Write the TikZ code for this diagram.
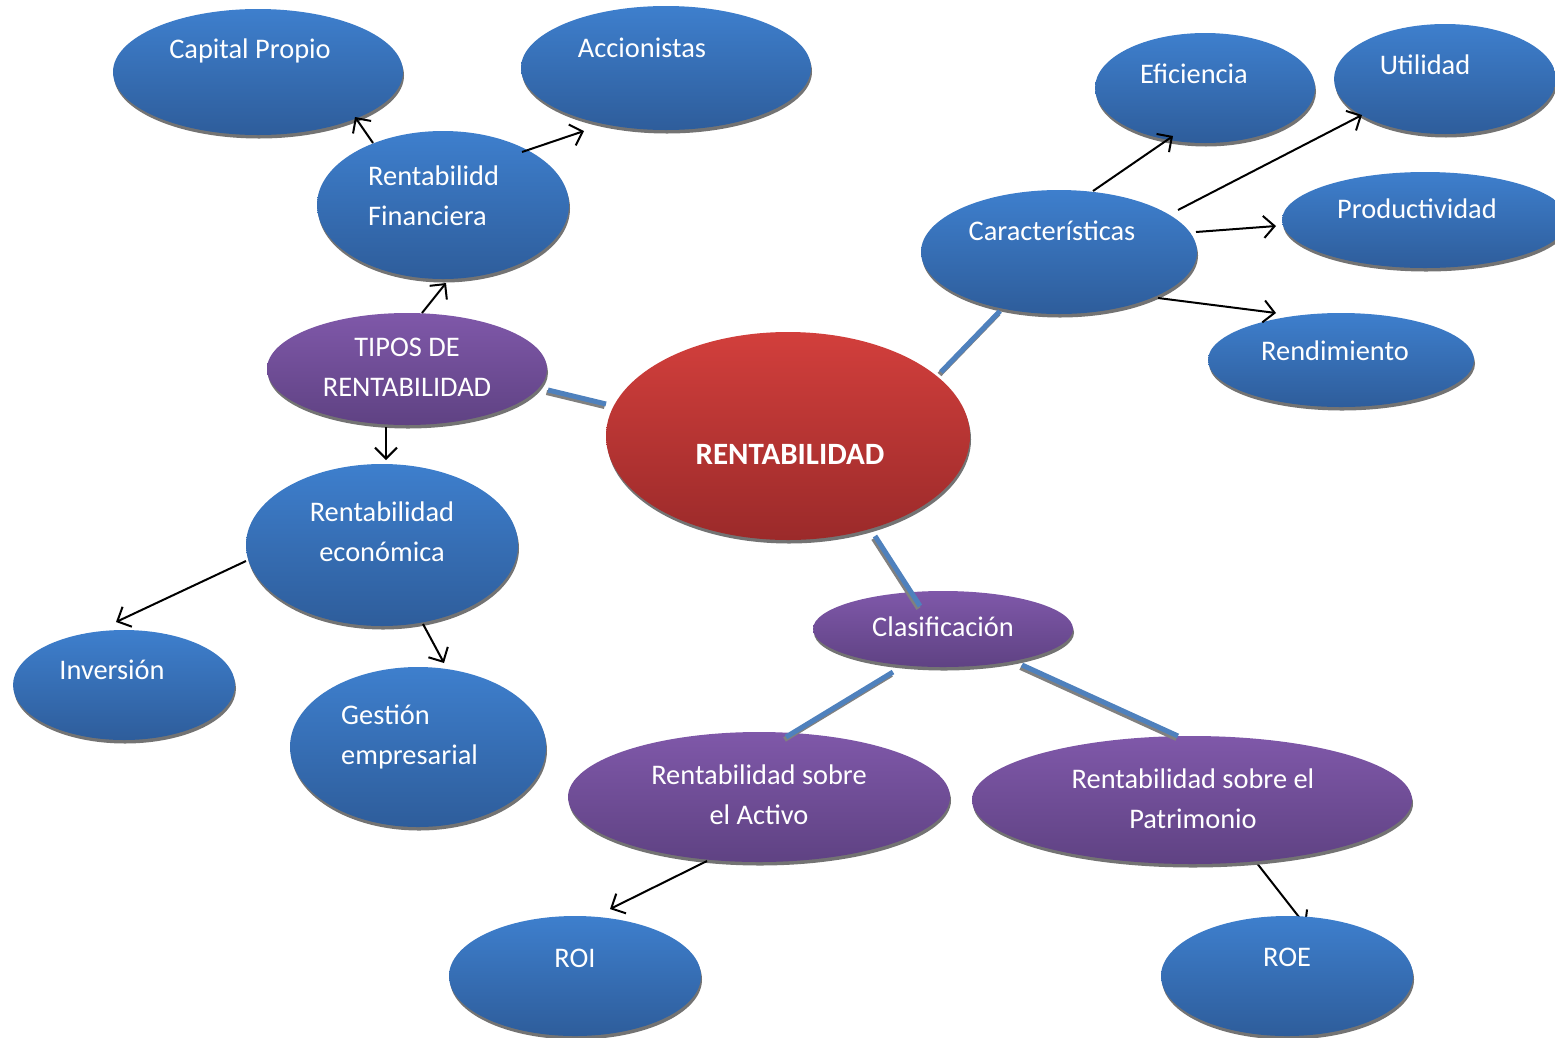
\documentclass[tikz,border=0pt]{standalone}
\usepackage{fontspec}
\setmainfont{Carlito}
\usetikzlibrary{shapes.geometric,shadows,arrows.meta,calc}

\definecolor{bluetop}{HTML}{3E7FCD}
\definecolor{bluebot}{HTML}{2E5D9B}
\definecolor{purtop}{HTML}{7F58A9}
\definecolor{purbot}{HTML}{5F4283}
\definecolor{redtop}{HTML}{D23F3C}
\definecolor{redbot}{HTML}{9B2A2A}
\definecolor{linkblue}{HTML}{4F81BD}

\pgfdeclarelayer{bg}
\pgfsetlayers{bg,main}

% thick link with its grey drop shadow
\newcommand\conlink[2]{%
  \draw[linkshade] #1 -- #2;
  \draw[link] #1 -- #2;}

\begin{document}
\begin{tikzpicture}[x=1pt,y=-1pt,
  bubble/.style={ellipse, inner sep=0pt, draw=none,
    drop shadow={shadow xshift=1pt, shadow yshift=-3.5pt, opacity=1, fill=black!55}},
  bluebub/.style={bubble, top color=bluetop, bottom color=bluebot},
  purbub/.style={bubble, top color=purtop, bottom color=purbot},
  redbub/.style={bubble, top color=redtop, bottom color=redbot},
  lbl/.style={text=white, font=\fontsize{28.4}{40}\selectfont, inner sep=0pt, align=center},
  arr/.style={line width=2pt, -{Straight Barb[length=11pt,width=22pt]}},
  link/.style={line width=5pt, draw=linkblue},
  linkshade/.style={line width=5pt, draw=black!50, transform canvas={xshift=-1.5pt,yshift=-2.5pt}}
]
\useasboundingbox (0,0) rectangle (1555,1037);

% bubbles
\node[bluebub, minimum width=290pt, minimum height=126pt] (cap) at (258,72) {};
\node[bluebub, minimum width=290pt, minimum height=124pt] (acc) at (666,68) {};
\node[bluebub, minimum width=252pt, minimum height=148pt] (fin) at (443,205) {};
\node[purbub,  minimum width=280pt, minimum height=112pt] (tip) at (407,369) {};
\node[redbub,  minimum width=364pt, minimum height=208pt] (ren) at (788,436) {};
\node[bluebub, minimum width=272pt, minimum height=162pt] (eco) at (382,545) {};
\node[bluebub, minimum width=222pt, minimum height=110pt] (inv) at (124,685) {};
\node[bluebub, minimum width=256pt, minimum height=160pt] (ges) at (418,747) {};
\node[bluebub, minimum width=276pt, minimum height=124pt] (car) at (1059,252) {};
\node[bluebub, minimum width=220pt, minimum height=110pt] (efi) at (1205,88) {};
\node[bluebub, minimum width=222pt, minimum height=110pt] (uti) at (1445,79) {};
\node[bluebub, minimum width=286pt, minimum height=96pt]  (pro) at (1425,220) {};
\node[bluebub, minimum width=266pt, minimum height=94pt]  (rnd) at (1341,360) {};
\node[purbub,  minimum width=260pt, minimum height=76pt]  (cla) at (943,629) {};
\node[purbub,  minimum width=382pt, minimum height=130pt] (act) at (759,797) {};
\node[purbub,  minimum width=440pt, minimum height=128pt] (pat) at (1192,800) {};
\node[bluebub, minimum width=252pt, minimum height=120pt] (roi) at (575,976) {};
\node[bluebub, minimum width=252pt, minimum height=120pt] (roe) at (1287,976) {};

% texts
\node[lbl] (capt) at ($(cap)+(-8,-21)$) {Capital Propio};
\node[lbl] (acct) at ($(acc)+(-24,-20)$) {Accionistas};
\node[lbl, align=left, anchor=west] (fint) at ($(fin)+(-75,-9)$) {Rentabilidd\\Financiera};
\node[lbl] (tipt) at ($(tip)+(0,-2)$) {TIPOS DE\\RENTABILIDAD};
\node[lbl, font=\fontsize{31}{40}\selectfont\bfseries] (rent) at ($(ren)+(2,18)$) {RENTABILIDAD};
\node[lbl] (ecot) at ($(eco)+(0,-13)$) {Rentabilidad\\económica};
\node[lbl] (invt) at ($(inv)+(-12,-15)$) {Inversión};
\node[lbl, align=left, anchor=west] (gest) at ($(ges)+(-77,-10)$) {Gestión\\empresarial};
\node[lbl] (cart) at ($(car)+(-7,-21)$) {Características};
\node[lbl] (efit) at ($(efi)+(-11,-14)$) {Eficiencia};
\node[lbl] (utit) at ($(uti)+(-20,-14)$) {Utilidad};
\node[lbl] (prot) at ($(pro)+(-8,-11)$) {Productividad};
\node[lbl] (rndt) at ($(rnd)+(-6,-9)$) {Rendimiento};
\node[lbl] (clat) at ($(cla)+(0,-2)$) {Clasificación};
\node[lbl] (actt) at ($(act)+(0,-2)$) {Rentabilidad sobre\\el Activo};
\node[lbl] (patt) at ($(pat)+(1,-1)$) {Rentabilidad sobre el\\Patrimonio};
\node[lbl] (roit) at ($(roi)+(0,-18)$) {ROI};
\node[lbl] (roet) at ($(roe)+(0,-19)$) {ROE};

% thin arrows
\draw[arr] ($(fin)+(-70,-62)$) -- ($(cap)+(97,45)$);
\draw[arr] ($(fin)+(79,-53)$) -- ($(acc)+(-82,63)$);
\draw[arr] ($(tip)+(15,-56)$) -- ($(fin)+(3,78)$);
\draw[arr] ($(tip)+(-21,58)$) -- ($(eco)+(4,-85)$);
\draw[arr] ($(eco)+(-136,16)$) -- ($(inv)+(-8,-63)$);
\draw[arr] ($(eco)+(41,79)$) -- ($(ges)+(26,-84)$);
\draw[arr] ($(car)+(34,-61)$) -- ($(efi)+(-32,48)$);
\draw[arr] ($(car)+(119,-42)$) -- ($(uti)+(-83,36)$);
\draw[arr] ($(car)+(137,-20)$) -- ($(pro)+(-149,6)$);
\draw[arr] ($(car)+(99,46)$) -- ($(rnd)+(-65,-47)$);
\draw[arr] ($(act)+(-52,64)$) -- ($(roi)+(35,-67)$);
\begin{pgfonlayer}{bg}
  \draw[arr] ($(pat)+(64,62)$) -- ($(roe)+(19,-50)$);
\end{pgfonlayer}

% thick links
\conlink{($(tip)+(141,21)$)}{($(ren)+(-182,-32)$)}
\conlink{($(ren)+(153,-64)$)}{($(car)+(-59,59)$)}
\conlink{($(ren)+(87,100)$)}{($(cla)+(-23,-23)$)}
\conlink{($(cla)+(-50,43)$)}{($(act)+(27,-60)$)}
\conlink{($(cla)+(79,36)$)}{($(pat)+(-14,-64)$)}
\end{tikzpicture}
\end{document}
